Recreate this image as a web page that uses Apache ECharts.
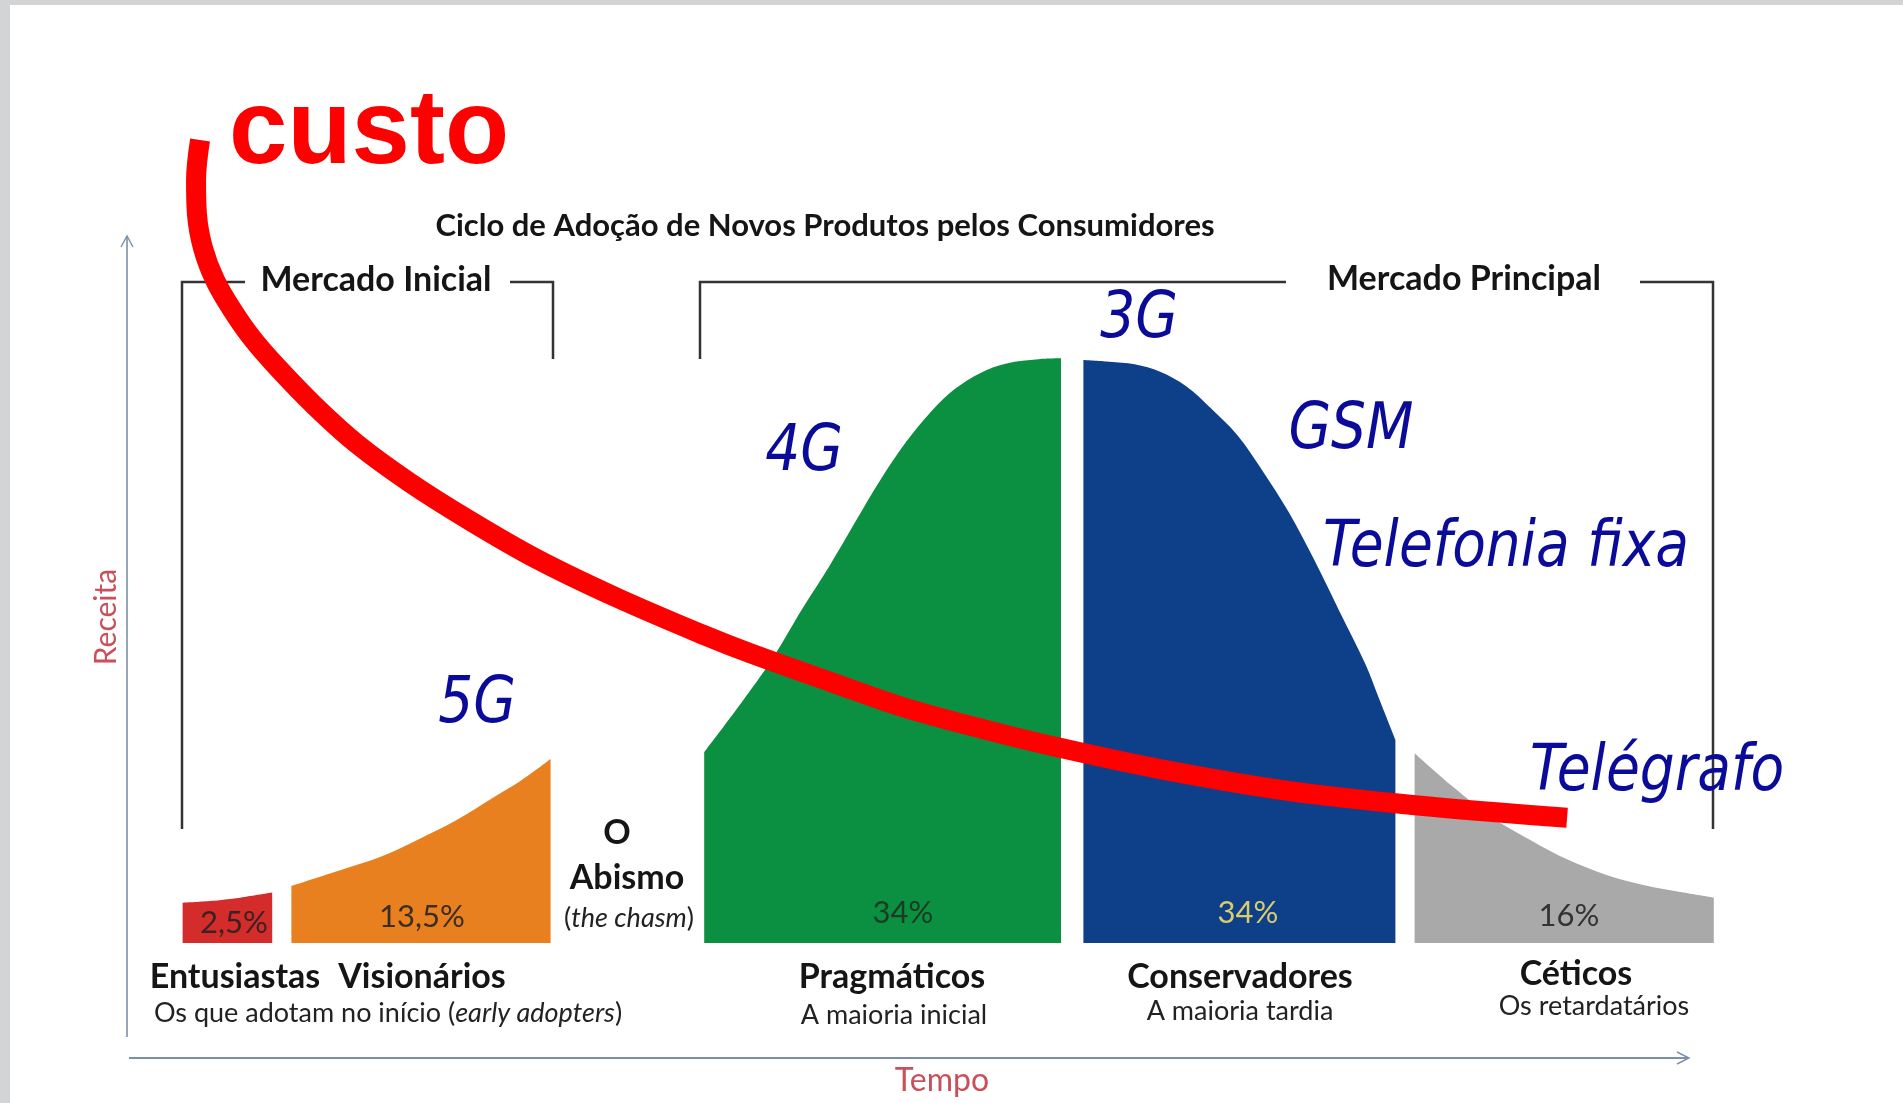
<!DOCTYPE html>
<html><head><meta charset="utf-8">
<script src="https://cdn.jsdelivr.net/npm/echarts@6/dist/echarts.min.js"></script>
<style>html,body{margin:0;padding:0;background:#fff;}#c{width:1903px;height:1103px;}</style>
</head><body><div id="c"></div>
<script>
// ---- data (time 0..100, receita 0..100) ----
const segmentNames = ['Entusiastas', 'Visionários', 'Pragmáticos', 'Conservadores', 'Céticos'];
const segmentSubtitles = ['Os que adotam no início', 'A maioria inicial', 'A maioria tardia', 'Os retardatários'];
const segmentShares = ['2,5%', '13,5%', '34%', '34%', '16%'];
const technologies = ['5G', '4G', '3G', 'GSM', 'Telefonia fixa', 'Telégrafo'];
const entusiastasCurve = [[3.6,4.8],[5.3,5.0],[7.2,5.4],[9.2,6.0]];
const visionariosCurve = [[10.4,6.8],[13.5,8.7],[15.9,10.2],[18.3,12.3],[20.7,14.6],[23.1,17.4],[24.8,19.4],[26.6,21.9]];
const pragmaticosCurve = [[36.2,22.7],[40.1,32.8],[42.4,40.0],[44.0,44.8],[45.6,50.0],[47.2,55.1],[48.8,59.6],[50.4,63.3],[51.9,66.0],[53.5,67.9],[55.1,69.0],[57.1,69.5],[58.5,69.6]];
const conservadoresCurve = [[59.9,69.4],[61.5,69.2],[63.1,68.9],[64.7,68.0],[66.3,66.3],[67.9,63.6],[69.5,60.5],[71.1,56.2],[72.7,51.4],[74.3,45.7],[75.9,39.5],[77.5,33.3],[78.4,29.0],[79.4,24.2]];
const ceticosCurve = [[80.6,22.6],[83.0,18.6],[85.4,15.0],[87.8,12.3],[90.2,9.9],[92.6,8.1],[94.9,6.9],[97.4,6.0],[99.3,5.4]];
const custoCurve = [[4.69,95.6],[4.44,90.8],[4.5,86.7],[4.88,82.7],[5.63,78.9],[6.69,75.4],[7.94,72.0],[9.44,68.7],[11.88,63.9],[14.5,59.4],[17.81,54.8],[21.63,50.2],[25.75,45.7],[30.75,41.1],[36.25,36.6],[39.06,34.5],[44.06,31.1],[48.75,28.0],[53.75,25.4],[58.5,23.2],[64.69,20.7],[72.69,18.1],[80.63,16.4],[90.13,14.9]];

// ---- styles ----
const segColors = ['#d42b2b', '#e8801f', '#0b8f40', '#0e3f89', '#a9a9a9'];
const shareColors = ['#3b2222', '#3a2e24', '#1c3a24', '#d9cd6c', '#333333'];
const blue = '#0b0b99';
const axisCol = '#7b90a8';
const lineCol = '#333333';
const dark = '#151515';
const sub = '#222222';
const redText = '#c9505a';

const chart = echarts.init(document.getElementById('c'), null, {renderer: 'canvas'});

function area(name, data, color) {
  return {
    name, type: 'line', data, smooth: 0.35, symbol: 'none', z: 2,
    lineStyle: {width: 0}, areaStyle: {color, opacity: 1}, silent: true
  };
}
function txt(text, x, y, font, fill, opts) {
  const o = Object.assign({type: 'text', x, y, z: 10, silent: true}, opts || {});
  o.style = Object.assign({text, font, fill, align: 'center', verticalAlign: 'middle'}, (opts && opts.style) || {});
  return o;
}
const italicRich = (size) => ({i: {fontStyle: 'italic', fontSize: size, fontFamily: 'Lato', fill: sub}});

const B = 'bold 34px Lato';
const R = '27px Lato';
const PCT = '31px Lato';
const TECH = 'italic 64px "DejaVu Sans"';
const techOpt = {scaleX: 0.86};

const graphics = [
  {type: 'rect', shape: {x: 0, y: 0, width: 10, height: 1103}, style: {fill: '#d3d4d6'}, z: 20, silent: true},
  {type: 'rect', shape: {x: 0, y: 0, width: 1903, height: 5}, style: {fill: '#d3d4d6'}, z: 20, silent: true},
  // axes with open arrow heads
  {type: 'polyline', shape: {points: [[127, 1037], [127, 236]]}, style: {stroke: axisCol, lineWidth: 1.6}},
  {type: 'polyline', shape: {points: [[121, 247], [127, 236], [133, 247]]}, style: {stroke: axisCol, lineWidth: 1.4, fill: null}},
  {type: 'polyline', shape: {points: [[129, 1058], [1688, 1058]]}, style: {stroke: axisCol, lineWidth: 1.8}},
  {type: 'polyline', shape: {points: [[1677, 1052], [1689, 1058], [1677, 1064]]}, style: {stroke: axisCol, lineWidth: 1.4, fill: null}},
  // brackets
  {type: 'polyline', shape: {points: [[245, 282], [182, 282], [182, 829]]}, style: {stroke: lineCol, lineWidth: 2.5, fill: null}},
  {type: 'polyline', shape: {points: [[510, 282], [553, 282], [553, 359]]}, style: {stroke: lineCol, lineWidth: 2.5, fill: null}},
  {type: 'polyline', shape: {points: [[700, 359], [700, 282], [1286, 282]]}, style: {stroke: lineCol, lineWidth: 2.5, fill: null}},
  {type: 'polyline', shape: {points: [[1640, 282], [1713, 282], [1713, 829]]}, style: {stroke: lineCol, lineWidth: 2.5, fill: null}},
  // texts
  txt('Ciclo de Adoção de Novos Produtos pelos Consumidores', 825, 226, 'bold 31px Lato', dark),
  txt('Mercado Inicial', 376, 280, 'bold 34px Lato', dark),
  txt('Mercado Principal', 1464, 279, 'bold 34px Lato', dark),
  txt(segmentNames[0], 235, 977, B, dark),
  txt(segmentNames[1], 422, 977, B, dark),
  txt(segmentNames[2], 892, 977, B, dark),
  txt(segmentNames[3], 1240, 977, B, dark),
  txt(segmentNames[4], 1576, 974, B, dark),
  txt(segmentSubtitles[0] + ' ({i|early adopters})', 388, 1013, R, sub, {style: {rich: italicRich(27)}}),
  txt(segmentSubtitles[1], 894, 1015, R, sub),
  txt(segmentSubtitles[2], 1240, 1011, R, sub),
  txt(segmentSubtitles[3], 1594, 1006, R, sub),
  txt(segmentShares[0], 234, 923, PCT, shareColors[0]),
  txt(segmentShares[1], 422, 917, PCT, shareColors[1]),
  txt(segmentShares[2], 903, 913, PCT, shareColors[2]),
  txt(segmentShares[3], 1248, 913, PCT, shareColors[3]),
  txt(segmentShares[4], 1569, 916, PCT, shareColors[4]),
  txt('O', 617, 833, B, dark),
  txt('Abismo', 627, 878, B, dark),
  txt('({i|the chasm})', 629, 918, R, sub, {style: {rich: italicRich(27)}}),
  txt(technologies[0], 477, 705, TECH, blue, techOpt),
  txt(technologies[1], 804, 453, TECH, blue, techOpt),
  txt(technologies[2], 1139, 320, TECH, blue, techOpt),
  txt(technologies[3], 1351, 431, TECH, blue, techOpt),
  txt(technologies[4], 1506, 549, TECH, blue, techOpt),
  txt(technologies[5], 1657, 773, TECH, blue, techOpt),
  txt('custo', 369, 134, 'bold 105px "Liberation Sans"', '#ff0000'),
  txt('Receita', 106, 617, '30px Lato', redText, {rotation: Math.PI / 2}),
  txt('Tempo', 942, 1081, '32px Lato', redText)
];

chart.setOption({
  animation: false,
  backgroundColor: '#ffffff',
  grid: {left: 125, right: 178, top: 103, bottom: 160},
  xAxis: {type: 'value', min: 0, max: 100, show: false},
  yAxis: {type: 'value', min: 0, max: 100, show: false},
  series: [
    area(segmentNames[0], entusiastasCurve, segColors[0]),
    area(segmentNames[1], visionariosCurve, segColors[1]),
    area(segmentNames[2], pragmaticosCurve, segColors[2]),
    area(segmentNames[3], conservadoresCurve, segColors[3]),
    area(segmentNames[4], ceticosCurve, segColors[4]),
    {name: 'custo', type: 'line', data: custoCurve, smooth: 0.35, symbol: 'none', z: 5, clip: false,
     lineStyle: {color: '#ff0000', width: 20, cap: 'butt', join: 'round'}, silent: true}
  ],
  graphic: graphics
});
</script></body></html>
